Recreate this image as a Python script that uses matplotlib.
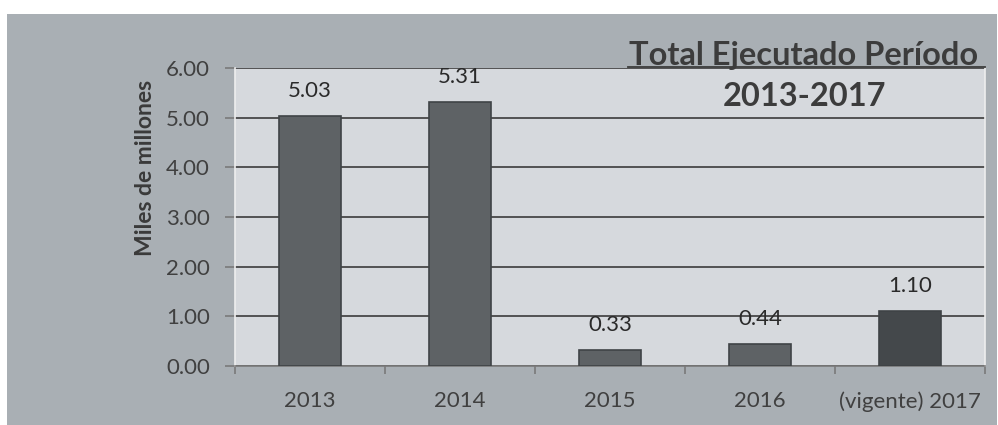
import numpy as np
import matplotlib
matplotlib.use('Agg')
import matplotlib.pyplot as plt
from matplotlib.patches import Rectangle
from matplotlib.lines import Line2D

plt.rcParams['font.family'] = ['Lato', 'DejaVu Sans']

# datos (miles de millones)
categorias = ['2013', '2014', '2015', '2016', '(vigente) 2017']
valores = [5.03, 5.31, 0.33, 0.44, 1.10]
etiquetas = ['5.03', '5.31', '0.33', '0.44', '1.10']
colores = ['#5e6265', '#5e6265', '#5e6265', '#5e6265', '#44484b']

W, H = 998, 425
fig = plt.figure(figsize=(W / 100, H / 100), dpi=100)
fig.patch.set_facecolor('white')

# fondo gris del gráfico
fig.patches.append(Rectangle((7 / W, 0), (997 - 7) / W, (H - 14) / H,
                             transform=fig.transFigure, facecolor='#a9afb4',
                             edgecolor='none', zorder=-10))

ax = fig.add_axes([235 / W, 1 - 366 / H, (985 - 235) / W, (366 - 68) / H])
ax.set_facecolor('#d6d9dd')

x = np.arange(len(categorias))
bars = ax.bar(x, valores, width=0.41, color=colores, edgecolor='#3f4346',
              linewidth=1.2, zorder=3)

# etiquetas de valor
for xi, v, t in zip(x, valores, etiquetas):
    ax.annotate(t, (xi, v), xytext=(0, 18), textcoords='offset points',
                ha='center', va='center', fontsize=16, color='#2a2a2a', zorder=4)

ax.set_ylim(0, 6)
ax.set_xlim(-0.5, len(categorias) - 0.5)
ax.set_yticks(np.arange(0, 7, 1))
ax.set_yticklabels([f'{v:.2f}' for v in np.arange(0, 7, 1)])
ax.yaxis.grid(True, color='#2e2e2e', linewidth=1.1, zorder=1)
ax.set_axisbelow(True)

ax.set_xticks(x)
ax.set_xticklabels(categorias)
ax.set_xticks(np.arange(-0.5, len(categorias), 1), minor=True)
ax.tick_params(axis='x', which='major', length=0, pad=18, labelsize=16,
               labelcolor='#404040')
ax.tick_params(axis='x', which='minor', length=6, width=1.2, color='#7a7a7a',
               direction='out')
ax.tick_params(axis='y', length=7, width=1.2, color='#7a7a7a', pad=11,
               labelsize=16, labelcolor='#404040')

for s in ['left', 'right']:
    ax.spines[s].set_color('#eeeeee')
    ax.spines[s].set_linewidth(1.2)
ax.spines['top'].set_visible(False)
ax.spines['bottom'].set_color('#7a7a7a')
ax.spines['bottom'].set_linewidth(1.2)

fig.text(145 / W, 1 - 168 / H, 'Miles de millones', rotation=90, ha='center',
         va='center', fontsize=16.5, fontweight='bold', color='#3a3a3a')

# título
fig.text(978 / W, 1 - 56 / H, 'Total Ejecutado Período', ha='right',
         va='center', fontsize=23.5, fontweight='bold', color='#3c3c3c')
fig.lines.append(Line2D([628 / W, 985 / W], [1 - 67 / H, 1 - 67 / H],
                        transform=fig.transFigure, color='#3c3c3c', lw=1.3))
fig.text(804 / W, 1 - 97 / H, '2013-2017', ha='center', va='center',
         fontsize=23.5, fontweight='bold', color='#3c3c3c')

fig.savefig('out.png', dpi=100, facecolor=fig.get_facecolor())
